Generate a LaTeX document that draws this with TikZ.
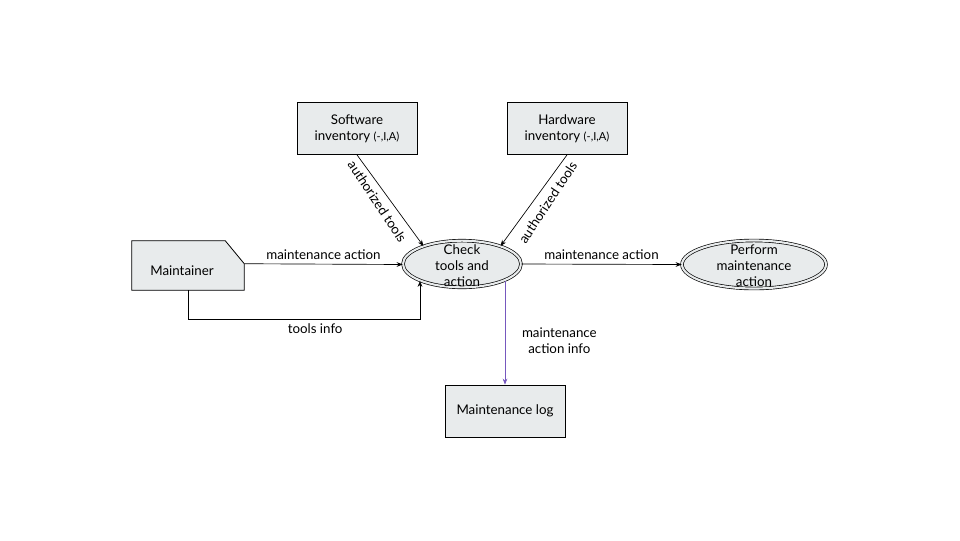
\documentclass[tikz,border=0pt]{standalone}
\usepackage{fontspec}
\setmainfont{Lato}
\usetikzlibrary{shapes.geometric,arrows.meta,calc}
\definecolor{boxfill}{HTML}{E8EBEC}
\definecolor{infoline}{RGB}{118,88,190}
\tikzset{
  every node/.style={font=\fontsize{10}{12}\selectfont, inner sep=0pt},
  store/.style={draw, fill=boxfill, line width=0.6pt, minimum width=90pt, minimum height=39pt, align=center},
  proc/.style={ellipse, draw, fill=boxfill, double=boxfill, double distance=1.6pt, line width=0.5pt},
  arr/.style={-{Stealth[length=4.5pt,width=3.5pt]}, line width=0.5pt},
  lbl/.style={align=center, text=black},
  small/.style={font=\fontsize{8.3}{9}\selectfont}
}
\newcommand{\tinytag}{{\fontsize{8.3}{9}\selectfont(-,I,A)}}
\begin{document}
\begin{tikzpicture}[x=0.75pt,y=-0.75pt]
\useasboundingbox (0,0) rectangle (960,540);
\node[store] (sw) at (357,128.5) {Software\\inventory \tinytag};
\node[store] (hw) at (567,128.5) {Hardware\\inventory \tinytag};
\node[minimum width=84pt, minimum height=36.75pt] (maint) at (188,265.5) {};
\draw[fill=boxfill, line width=0.6pt] (maint.north west) -- ($(maint.north east)+(-19,0)$) -- ($(maint.north east)+(0,23)$) -- (maint.south east) -- (maint.south west) -- cycle;
\node (mainttxt) at (182,271) {Maintainer};
\node[proc, minimum width=88.5pt, minimum height=35pt] (check) at (462,264) {};
\node[lbl] (checktxt) at (462,266) {Check\\tools and\\action};
\node[proc, minimum width=108pt, minimum height=36pt] (perf) at (754,264.5) {};
\node[lbl] (perftxt) at (754,266) {Perform\\maintenance\\action};
\node[store] (log) at (505,411) {Maintenance log};
\coordinate (ti) at (420,319);
\draw[arr] ($(maint.north east)+(0,23)$) -- (check.west |- 0,264.5) node[midway, above=3.5pt] {maintenance action};
\draw[arr] (maint.south) |- (ti) node[pos=0.774, below=3pt] {tools info} -- (ti |- check.202);
\draw[arr] (check.east) -- (perf.west) node[midway, above=3.5pt] {maintenance action};
\draw[arr] (sw.south) -- (check.155);
\draw[arr] (hw.south) -- (check.25);
\node[rotate=-56.5] (swlbl) at ($(sw.south)!0.5!(check.155)+(-13,1)$) {authorized tools};
\node[rotate=56.5] (hwlbl) at ($(hw.south)!0.5!(check.25)+(14,2)$) {authorized tools};
\draw[arr, infoline] (check.-22 -| log.north) -- (log.north) node[pos=0.58, right=12.5pt, lbl] {maintenance\\action info};
\end{tikzpicture}
\end{document}
